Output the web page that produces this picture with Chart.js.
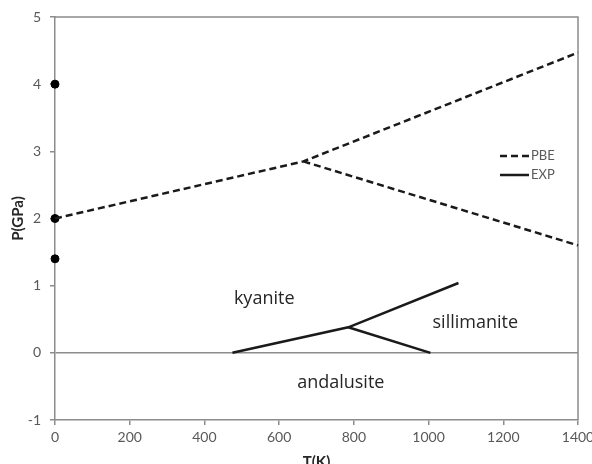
<!DOCTYPE html>
<html>
<head>
<meta charset="utf-8">
<script src="https://cdn.jsdelivr.net/npm/chart.js@4"></script>
<style>
  html, body { margin: 0; padding: 0; background: #fff; }
  #wrap { width: 592px; height: 464px; }
</style>
</head>
<body>
<div id="wrap"><canvas id="phaseChart" width="592" height="464"></canvas></div>
<script>
// Phase diagram data (T in K, P in GPa)
const pbeT = [0, 665, 1400];
const pbeP = [2, 2.85, 4.47];
const pbeBranchT = [665, 1400];
const pbeBranchP = [2.85, 1.6];
const expT = [475, 785, 1080];
const expP = [0, 0.38, 1.04];
const expBranchT = [785, 1005];
const expBranchP = [0.38, 0];
const dotT = [0, 0, 0];
const dotP = [4, 2, 1.4];
const xTicks = [0, 200, 400, 600, 800, 1000, 1200, 1400];
const yTicks = [-1, 0, 1, 2, 3, 4, 5];
const regionNames = ['kyanite', 'sillimanite', 'andalusite'];
const regionT = [560, 1125, 765];
const regionP = [0.8, 0.45, -0.45];

const toPoints = (xs, ys) => xs.map((x, i) => ({ x: x, y: ys[i] }));

const axisGray = '#8c8c8c';
const textGray = '#595959';
const lineColor = '#1a1a1a';

// top/right frame of the plot area
const framePlugin = {
    id: 'frame',
    beforeDatasetsDraw(chart) {
        const { ctx, chartArea } = chart;
        ctx.save();
        ctx.strokeStyle = axisGray;
        ctx.lineWidth = 1.5;
        ctx.beginPath();
        ctx.moveTo(chartArea.left, chartArea.top);
        ctx.lineTo(chartArea.right, chartArea.top);
        ctx.lineTo(chartArea.right, chartArea.bottom);
        ctx.stroke();
        ctx.restore();
    }
};

// region names and the small legend inside the plot
const labelPlugin = {
    id: 'labels',
    afterDatasetsDraw(chart) {
        const { ctx, scales } = chart;
        ctx.save();
        ctx.fillStyle = '#262626';
        ctx.font = '18px "Open Sans"';
        ctx.textAlign = 'center';
        ctx.textBaseline = 'middle';
        regionNames.forEach((name, i) => {
            ctx.fillText(name, scales.x.getPixelForValue(regionT[i]), scales.y.getPixelForValue(regionP[i]));
        });

        // legend
        const items = chart.data.datasets.filter(d => d.legend);
        let y = 156;
        ctx.font = '13px Lato';
        ctx.textAlign = 'left';
        items.forEach(d => {
            ctx.strokeStyle = d.borderColor;
            ctx.lineWidth = d.borderWidth;
            ctx.setLineDash(d.borderDash || []);
            ctx.beginPath();
            ctx.moveTo(500, y);
            ctx.lineTo(529, y);
            ctx.stroke();
            ctx.setLineDash([]);
            ctx.fillStyle = textGray;
            ctx.fillText(d.label, 531, y);
            y += 19;
        });
        ctx.restore();
    }
};

const lineSet = (label, xs, ys, dashed, legend) => ({
    type: 'line',
    label: label,
    data: toPoints(xs, ys),
    borderColor: lineColor,
    borderWidth: 2.5,
    borderDash: dashed ? [7, 4] : [],
    pointRadius: 0,
    showLine: true,
    fill: false,
    legend: legend,
    clip: false
});

const ctx = document.getElementById('phaseChart').getContext('2d');
const phaseChart = new Chart(ctx, {
    type: 'scatter',
    data: {
        datasets: [
            lineSet('PBE', pbeT, pbeP, true, true),
            lineSet('PBE', pbeBranchT, pbeBranchP, true, false),
            lineSet('EXP', expT, expP, false, true),
            lineSet('EXP', expBranchT, expBranchP, false, false),
            {
                label: 'points',
                data: toPoints(dotT, dotP),
                backgroundColor: '#000',
                borderColor: '#000',
                pointRadius: 4,
                clip: false
            }
        ]
    },
    options: {
        responsive: false,
        animation: false,
        layout: { padding: { top: 17, right: 14, left: 0, bottom: 0 } },
        plugins: {
            legend: { display: false },
            tooltip: { enabled: false }
        },
        scales: {
            x: {
                type: 'linear',
                min: 0,
                max: 1400,
                afterBuildTicks: scale => { scale.ticks = xTicks.map(v => ({ value: v })); },
                afterFit: scale => { scale.height = 44; scale.paddingLeft = 0; scale.paddingRight = 0; },
                ticks: { color: textGray, font: { family: 'Lato', size: 14 }, padding: 4, maxRotation: 0, callback: v => String(v) },
                grid: { drawOnChartArea: false, tickLength: 5, color: axisGray, lineWidth: 1.5 },
                border: { color: axisGray, width: 1.5 },
                title: {
                    display: true,
                    text: 'T(K)',
                    color: '#262626',
                    font: { family: 'Lato', size: 15, weight: 'bold' },
                    padding: { top: 0, bottom: -7 }
                }
            },
            y: {
                type: 'linear',
                min: -1,
                max: 5,
                afterBuildTicks: scale => { scale.ticks = yTicks.map(v => ({ value: v })); },
                afterFit: scale => { scale.width = 55; scale.paddingTop = 0; scale.paddingBottom = 0; },
                ticks: { color: textGray, font: { family: 'Lato', size: 14 }, padding: 9, callback: v => String(v) },
                grid: {
                    drawOnChartArea: true,
                    tickLength: 5,
                    color: c => (c.tick && c.tick.value === 0 ? axisGray : 'transparent'),
                    tickColor: axisGray,
                    lineWidth: 1.5
                },
                border: { color: axisGray, width: 1.5 },
                title: {
                    display: true,
                    text: 'P(GPa)',
                    color: '#262626',
                    font: { family: 'Lato', size: 15, weight: 'bold' },
                    padding: { top: 9, bottom: 0 }
                }
            }
        }
    },
    plugins: [framePlugin, labelPlugin]
});
</script>
</body>
</html>
